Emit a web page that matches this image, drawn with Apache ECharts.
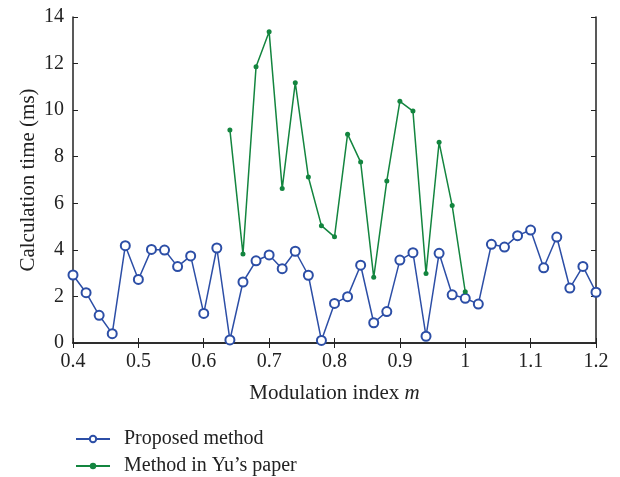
<!DOCTYPE html>
<html lang="en">
<head>
    <meta charset="UTF-8" />
    <title>Calculation time</title>
    <script src="https://cdn.jsdelivr.net/npm/echarts@6/dist/echarts.min.js"></script>
    <style>
        html, body { margin: 0; padding: 0; background: #fff; }
    </style>
</head>
<body>
    <div id="main" style="width: 620px; height: 477px"></div>
    <script>
        // 调制指数 m
        var mProposed = [0.40, 0.42, 0.44, 0.46, 0.48, 0.50, 0.52, 0.54, 0.56, 0.58,
            0.60, 0.62, 0.64, 0.66, 0.68, 0.70, 0.72, 0.74, 0.76, 0.78,
            0.80, 0.82, 0.84, 0.86, 0.88, 0.90, 0.92, 0.94, 0.96, 0.98,
            1.00, 1.02, 1.04, 1.06, 1.08, 1.10, 1.12, 1.14, 1.16, 1.18, 1.20];
        var timeProposed = [2.92, 2.16, 1.19, 0.40, 4.18, 2.73, 4.02, 3.99, 3.28, 3.74,
            1.27, 4.08, 0.13, 2.62, 3.53, 3.78, 3.19, 3.94, 2.91, 0.11,
            1.70, 1.99, 3.34, 0.87, 1.35, 3.56, 3.88, 0.29, 3.85, 2.07,
            1.92, 1.67, 4.24, 4.12, 4.61, 4.85, 3.23, 4.55, 2.36, 3.29, 2.18];

        var mYu = [0.64, 0.66, 0.68, 0.70, 0.72, 0.74, 0.76, 0.78, 0.80, 0.82,
            0.84, 0.86, 0.88, 0.90, 0.92, 0.94, 0.96, 0.98, 1.00];
        var timeYu = [9.15, 3.82, 11.86, 13.37, 6.63, 11.18, 7.13, 5.04, 4.56, 8.97,
            7.77, 2.82, 6.96, 10.38, 9.96, 2.99, 8.62, 5.90, 2.20];

        var seriesNames = ["Proposed method", "Method in Yu\u2019s paper"];

        function pairs(xs, ys) {
            var arr = [];
            for (var i = 0; i < xs.length; i++) {
                arr.push([xs[i], ys[i]]);
            }
            return arr;
        }

        var font = "'Liberation Serif', 'DejaVu Serif', serif";
        var axisColor = "#222";
        var textColor = "#222";

        // 图例：两行，各一个
        function legendRow(name, top) {
            return {
                left: 75,
                top: top,
                padding: 0,
                itemWidth: 34,
                itemHeight: 8,
                textStyle: { fontFamily: font, fontSize: 20, color: textColor, padding: [0, 0, 0, 9] },
                data: [name]
            };
        }

        var mCharts = echarts.init(document.getElementById("main"));

        var option = {
            animation: false,
            textStyle: { fontFamily: font },
            grid: { left: 73, right: 24, top: 17, bottom: 134 },
            legend: [
                legendRow(seriesNames[0], 429),
                legendRow(seriesNames[1], 456)
            ],
            xAxis: [
                {
                    type: "value",
                    min: 0.4,
                    max: 1.2,
                    interval: 0.1,
                    name: "Modulation index {i|m}",
                    nameLocation: "middle",
                    nameGap: 40,
                    nameTextStyle: {
                        fontFamily: font, fontSize: 21, color: textColor,
                        rich: { i: { fontFamily: font, fontSize: 21, fontStyle: "italic", color: textColor } }
                    },
                    axisLine: { lineStyle: { color: axisColor, width: 1.5 } },
                    axisTick: { inside: true, length: 5, lineStyle: { color: axisColor } },
                    axisLabel: {
                        fontSize: 20, color: textColor, margin: 9,
                        formatter: function (v) { return String(+v.toFixed(1)); }
                    },
                    splitLine: { show: false }
                },
                {
                    type: "value",
                    position: "top",
                    min: 0.4,
                    max: 1.2,
                    interval: 0.1,
                    axisLine: { lineStyle: { color: axisColor, width: 1.5 } },
                    axisTick: { inside: true, length: 5, lineStyle: { color: axisColor } },
                    axisLabel: { show: false },
                    splitLine: { show: false }
                }
            ],
            yAxis: [
                {
                    type: "value",
                    min: 0,
                    max: 14,
                    interval: 2,
                    name: "Calculation time (ms)",
                    nameLocation: "middle",
                    nameGap: 34,
                    nameMoveOverlap: false,
                    nameTextStyle: { fontFamily: font, fontSize: 21, color: textColor },
                    axisLine: { lineStyle: { color: axisColor, width: 1.5 } },
                    axisTick: { inside: true, length: 5, lineStyle: { color: axisColor } },
                    axisLabel: { fontSize: 20, color: textColor, margin: 9 },
                    splitLine: { show: false }
                },
                {
                    type: "value",
                    position: "right",
                    min: 0,
                    max: 14,
                    interval: 2,
                    axisLine: { lineStyle: { color: axisColor, width: 1.5 } },
                    axisTick: { inside: true, length: 5, lineStyle: { color: axisColor } },
                    axisLabel: { show: false },
                    splitLine: { show: false }
                }
            ],
            series: [
                {
                    name: seriesNames[0],
                    type: "line",
                    data: pairs(mProposed, timeProposed),
                    symbol: "emptyCircle",
                    symbolSize: 9,
                    lineStyle: { color: "#2c4ea6", width: 1.5 },
                    itemStyle: { color: "#2c4ea6", borderWidth: 1.5 }
                },
                {
                    name: seriesNames[1],
                    type: "line",
                    data: pairs(mYu, timeYu),
                    symbol: "circle",
                    symbolSize: 5,
                    lineStyle: { color: "#13853f", width: 1.5 },
                    itemStyle: { color: "#13853f" }
                }
            ]
        };
        mCharts.setOption(option);
    </script>
</body>
</html>
